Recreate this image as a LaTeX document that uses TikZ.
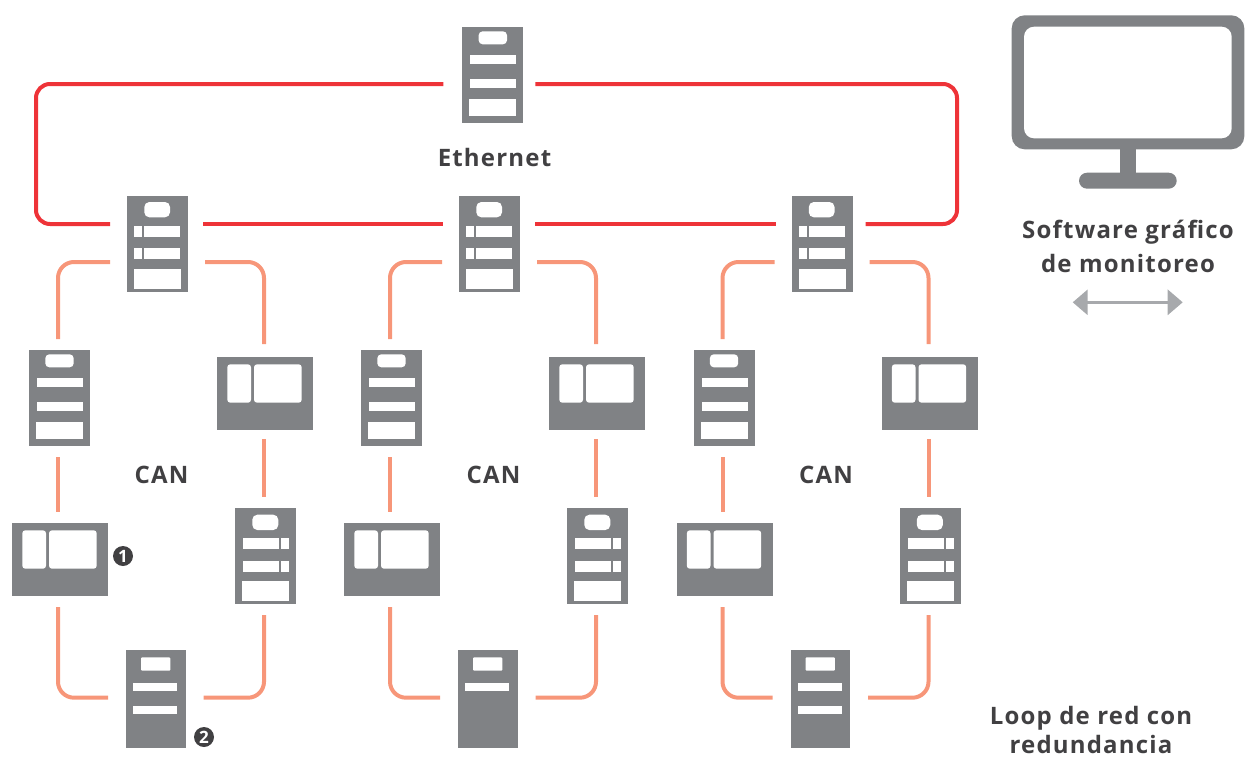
\documentclass[tikz,border=0pt]{standalone}
\usepackage{fontspec}
\setmainfont[LetterSpace=5]{Open Sans}
\usetikzlibrary{arrows.meta}
\definecolor{devgray}{HTML}{808285}
\definecolor{ethred}{HTML}{EE3338}
\definecolor{cansalmon}{HTML}{F79679}
\definecolor{txtdark}{HTML}{414042}
\definecolor{arrowgray}{HTML}{A7A9AC}
\tikzset{
  tower/.style={fill=devgray,inner sep=0pt,outer sep=0pt,minimum width=61pt,minimum height=96pt,anchor=north west},
  lowtower/.style={fill=devgray,inner sep=0pt,outer sep=0pt,minimum width=59.5pt,minimum height=98pt,anchor=north west},
  panel/.style={fill=devgray,inner sep=0pt,outer sep=0pt,minimum width=96pt,minimum height=73pt,anchor=north west},
  ethline/.style={draw=ethred,line width=4pt,rounded corners=14pt},
  canline/.style={draw=cansalmon,line width=4pt,rounded corners=16pt},
  label/.style={text=txtdark,font=\fontsize{24}{32}\selectfont\bfseries,inner sep=0pt,align=center},
  badge/.style={circle,fill=txtdark,text=white,minimum size=20pt,inner sep=0pt,font=\fontsize{17}{17}\selectfont\bfseries},
}
% white details, relative to the top left corner of a node
\newcommand{\wbox}[5]{\fill[white,shift={(#1.north west)}] (#2,#3) rectangle (#4,#5);}
\newcommand{\wpill}[6]{\fill[white,rounded corners=#6pt,shift={(#1.north west)}] (#2,#3) rectangle (#4,#5);}
\newcommand{\plainbars}[1]{%
  \wpill{#1}{16.3}{4.3}{44.7}{17.3}{4}
  \wbox{#1}{8}{28}{54}{37}
  \wbox{#1}{8}{52}{54}{61}
  \wbox{#1}{7}{72}{54}{89}}
\newcommand{\leftsplit}[1]{%
  \wpill{#1}{17.3}{6}{43}{21.3}{5}
  \wbox{#1}{7}{30}{15.3}{41}
  \wbox{#1}{17}{30}{53}{41}
  \wbox{#1}{7}{52}{15.3}{63}
  \wbox{#1}{17}{52}{53}{63}
  \wbox{#1}{7}{73}{54}{93}}
\newcommand{\rightsplit}[1]{%
  \wpill{#1}{17.3}{6.7}{43.3}{22}{5}
  \wbox{#1}{8}{30}{44.3}{41}
  \wbox{#1}{46}{30}{54.3}{41}
  \wbox{#1}{8}{53}{44.3}{64}
  \wbox{#1}{46}{53}{54.3}{64}
  \wbox{#1}{7}{73}{54.3}{92.7}}
\newcommand{\windows}[1]{%
  \wpill{#1}{10.3}{7.3}{34}{45.7}{3}
  \wpill{#1}{37}{7.3}{84.7}{45.7}{3}}
\begin{document}
\begin{tikzpicture}[x=1pt,y=-1pt]
\useasboundingbox (0,0) rectangle (1246,758);

% columns
\foreach \c/\dx/\twobars in {a/0/1,b/332/0,c/664.5/1}{
  \node[tower] (ctrl\c) at (127+\dx,196) {};
  \leftsplit{ctrl\c}
  \node[tower] (srvL\c) at (29+\dx,350) {};
  \plainbars{srvL\c}
  \node[panel] (panR\c) at (217+\dx,357) {};
  \windows{panR\c}
  \node[panel] (panL\c) at (12+\dx,523) {};
  \windows{panL\c}
  \node[tower] (srvR\c) at (235+\dx,508) {};
  \rightsplit{srvR\c}
  \node[lowtower] (low\c) at (126+\dx,650) {};
  \wpill{low\c}{15}{7.3}{44.3}{20.7}{1}
  \wbox{low\c}{7}{33}{51}{41}
  \ifnum\twobars=1 \wbox{low\c}{7}{56}{51}{64}\fi
  \node[label] (can\c) at (161.5+\dx,475) {CAN};
  % CAN loop
  \draw[canline] ([shift={(-17pt,-18pt)}]ctrl\c.west) -| ([shift={(-1.5pt,11pt)}]srvL\c.north);
  \draw[canline] ([shift={(17pt,-18pt)}]ctrl\c.east) -| ([shift={(-1pt,13pt)}]panR\c.north);
  \draw[canline] ([shift={(-1.5pt,-11pt)}]srvL\c.south) -- ([shift={(-2pt,11pt)}]panL\c.north);
  \draw[canline] ([shift={(-1pt,-9pt)}]panR\c.south) -- ([shift={(-1.5pt,11pt)}]srvR\c.north);
  \draw[canline] ([shift={(-2pt,-11pt)}]panL\c.south) |- ([shift={(-18pt,1.3pt)}]low\c.west);
  \draw[canline] ([shift={(-1.5pt,-11pt)}]srvR\c.south) |- ([shift={(18pt,1.3pt)}]low\c.east);
}

% top server and Ethernet ring
\node[tower] (top) at (462.3,27) {};
\plainbars{top}
\node[label] (eth) at (494.5,157) {Ethernet};
\coordinate (ringL) at (36,154);
\coordinate (ringR) at (957,154);
\draw[ethline] ([shift={(-19pt,-9pt)}]top.west) -| (ringL) |- ([shift={(-17pt,20pt)}]ctrla.west);
\draw[ethline] ([shift={(12pt,-9pt)}]top.east) -| (ringR) |- ([shift={(13pt,20pt)}]ctrlc.east);
\draw[ethline] ([shift={(15pt,20pt)}]ctrla.east) -- ([shift={(-16pt,20pt)}]ctrlb.west);
\draw[ethline] ([shift={(15pt,20pt)}]ctrlb.east) -- ([shift={(-16pt,20pt)}]ctrlc.west);

% monitor
\fill[devgray,rounded corners=13pt] (1011.7,15.3) rectangle (1244.3,149.3);
\fill[white,rounded corners=10pt] (1024,26.7) rectangle (1231.7,138.3);
\fill[devgray] (1119.7,149) rectangle (1135.7,176);
\fill[devgray,rounded corners=8pt] (1079,172.7) rectangle (1176.7,188.7);
\node[label] (sw) at (1128,246) {Software gráfico\\[2pt]de monitoreo};
\coordinate (arrL) at (1072.7,302.3);
\coordinate (arrR) at (1182.7,302.3);
\draw[arrowgray,line width=3pt,{Triangle[length=15pt,width=25pt]}-{Triangle[length=15pt,width=25pt]}] (arrL) -- (arrR);

\node[label,font=\fontsize{24}{29}\selectfont\bfseries] (loop) at (1091,730) {Loop de red con\\redundancia};

\node[badge] (b1) at (123,556) {1};
\node[badge] (b2) at (204,737) {2};
\end{tikzpicture}
\end{document}
